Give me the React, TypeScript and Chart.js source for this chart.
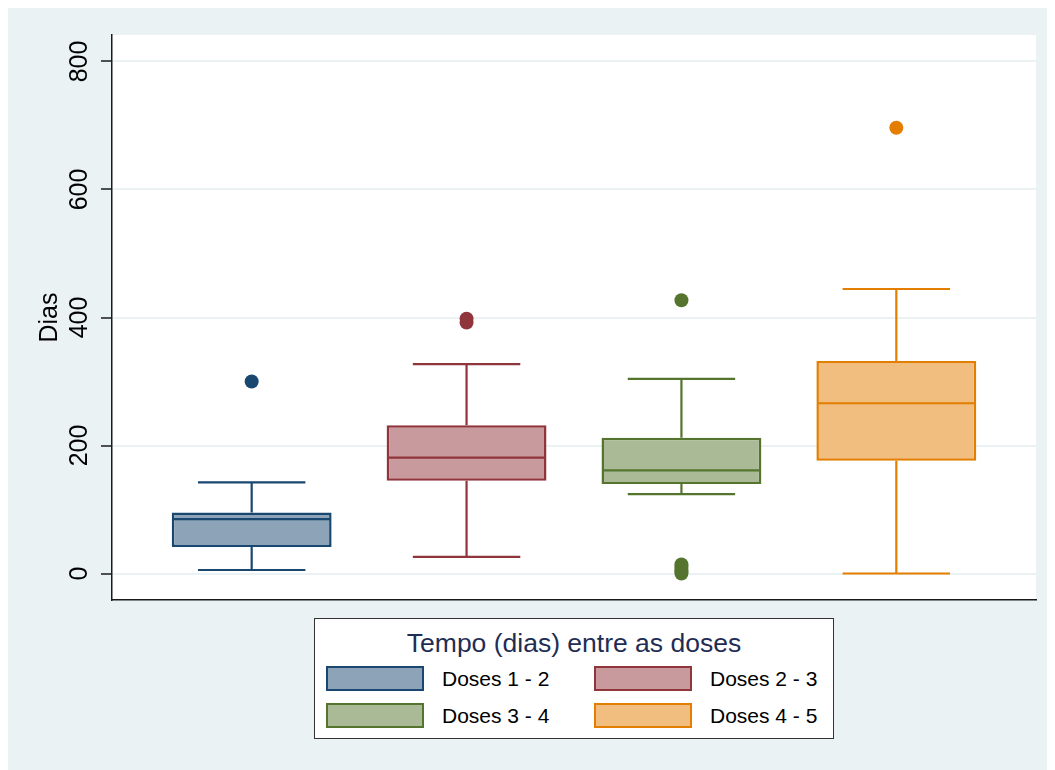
import React, { useEffect, useRef } from "react";
import { Chart, registerables } from "chart.js";

Chart.register(...registerables);

// ---- data ----
const categories = ["Doses 1 - 2", "Doses 2 - 3", "Doses 3 - 4", "Doses 4 - 5"];
const whiskerLow = [5.5, 26, 124, 0];
const q1 = [41.5, 145, 140, 176];
const median = [85, 181, 161, 266];
const q3 = [95.5, 231.5, 212, 332];
const whiskerHigh = [142.5, 327, 304, 444.5];
const outliers = [[300], [392, 398], [0, 3, 6, 10, 14, 427], [696.5]];
const yTicks = [0, 200, 400, 600, 800];
const yAxisTitle = "Dias";
const legendTitle = "Tempo (dias) entre as doses";

// ---- styles ----
const lineColors = ["#1A476F", "#90353B", "#55752F", "#E37E00"];
const fillColors = ["#8DA3B7", "#C89A9D", "#AABA97", "#F1BE7F"];
const FONT = '"Liberation Sans", Arial, Helvetica, sans-serif';
const BG = "#EAF2F3";
const W = 1047;
const H = 762;
const BOX_FRAC = 0.744;
const BOX_HALF = BOX_FRAC / 2 - 0.005;
const CAP_HALF = 0.25;

const bgPlugin = {
  id: "bgPlugin",
  beforeDraw(chart: any) {
    const { ctx, width, height, chartArea } = chart;
    ctx.save();
    ctx.fillStyle = BG;
    ctx.fillRect(0, 0, width, height);
    ctx.fillStyle = "#ffffff";
    ctx.fillRect(
      chartArea.left,
      chartArea.top,
      chartArea.right - chartArea.left,
      chartArea.bottom - chartArea.top
    );
    ctx.restore();
  },
};

function whiskerPoints(i: number) {
  const x = i + 1;
  const gap = { x, y: null as any };
  return [
    { x: x - CAP_HALF, y: whiskerLow[i] },
    { x: x + CAP_HALF, y: whiskerLow[i] },
    gap,
    { x, y: whiskerLow[i] },
    { x, y: q1[i] },
    gap,
    { x, y: q3[i] },
    { x, y: whiskerHigh[i] },
    gap,
    { x: x - CAP_HALF, y: whiskerHigh[i] },
    { x: x + CAP_HALF, y: whiskerHigh[i] },
    gap,
    { x: x - BOX_HALF, y: median[i] },
    { x: x + BOX_HALF, y: median[i] },
  ];
}

export default function App() {
  const canvasRef = useRef<HTMLCanvasElement | null>(null);

  useEffect(() => {
    document.body.style.overflow = "hidden";
    const canvas = canvasRef.current;
    if (!canvas) return;

    const datasets: any[] = [
      {
        type: "bar",
        label: "boxes",
        data: categories.map((_, i) => ({ x: i + 1, y: [q1[i], q3[i]] })),
        backgroundColor: fillColors,
        borderColor: lineColors,
        borderWidth: 2.5,
        borderSkipped: false,
        barPercentage: BOX_FRAC,
        categoryPercentage: 1,
        order: 3,
      },
      ...categories.map((c, i) => ({
        type: "line",
        label: c + " whiskers",
        data: whiskerPoints(i),
        borderColor: lineColors[i],
        borderWidth: 2.2,
        pointRadius: 0,
        fill: false,
        spanGaps: false,
        tension: 0,
        order: 2,
      })),
      ...categories.map((c, i) => ({
        type: "scatter",
        label: c + " outliers",
        data: outliers[i].map((v) => ({ x: i + 1, y: v })),
        backgroundColor: lineColors[i],
        borderWidth: 0,
        pointRadius: 7,
        order: 1,
      })),
    ];

    const chart = new Chart(canvas, {
      type: "bar",
      data: { datasets },
      plugins: [bgPlugin],
      options: {
        animation: false,
        responsive: false,
        devicePixelRatio: 1,
        layout: { padding: { top: 27, left: 0, right: 19, bottom: 170 } },
        plugins: {
          legend: { display: false },
          tooltip: { enabled: false },
        },
        scales: {
          x: {
            type: "linear",
            min: 0.35,
            max: 4.65,
            offset: false,
            afterBuildTicks(scale: any) {
              scale.ticks = categories.map((_, i) => ({ value: i + 1 }));
            },
            ticks: { display: false },
            grid: { display: false, offset: false },
            border: { display: true, color: "#1a1a1a", width: 1.5 },
            afterFit(scale: any) {
              scale.height = 0;
            },
          },
          y: {
            type: "linear",
            min: -41.4,
            max: 841.4,
            afterBuildTicks(scale: any) {
              scale.ticks = yTicks.map((v) => ({ value: v }));
            },
            afterFit(scale: any) {
              scale.width = 104;
            },
            ticks: {
              minRotation: 90,
              maxRotation: 90,
              crossAlign: "center",
              padding: 0,
              color: "#000",
              font: { family: FONT, size: 25 },
            },
            grid: {
              color: BG,
              lineWidth: 2,
              tickLength: 11,
              tickColor: "#1a1a1a",
              tickWidth: 1.5,
            },
            border: { display: true, color: "#1a1a1a", width: 1.5 },
            title: {
              display: true,
              text: yAxisTitle,
              color: "#000",
              font: { family: FONT, size: 25 },
              padding: { top: 27, bottom: 0 },
            },
          },
        },
      } as any,
    });

    return () => chart.destroy();
  }, []);

  return (
    <div style={{ position: "relative", width: W, height: H }}>
      <canvas ref={canvasRef} width={W} height={H} style={{ display: "block" }} />
      <div
        style={{
          position: "absolute",
          left: 306,
          top: 610,
          width: 520,
          height: 121,
          boxSizing: "border-box",
          border: "1px solid #333",
          background: "#fff",
          fontFamily: FONT,
        }}
      >
        <div
          style={{
            position: "absolute",
            left: 0,
            right: 0,
            top: 9,
            textAlign: "center",
            fontSize: 26.5,
            lineHeight: "30px",
            color: "#1F2D55",
            whiteSpace: "nowrap",
          }}
        >
          {legendTitle}
        </div>
        {categories.map((c, i) => {
          const col = i % 2;
          const row = Math.floor(i / 2);
          return (
            <React.Fragment key={c}>
              <div
                style={{
                  position: "absolute",
                  left: 11 + col * 268,
                  top: 47 + row * 37,
                  width: 98,
                  height: 25,
                  boxSizing: "border-box",
                  border: `2px solid ${lineColors[i]}`,
                  background: fillColors[i],
                }}
              />
              <div
                style={{
                  position: "absolute",
                  left: 127 + col * 268,
                  top: 47 + row * 37,
                  height: 25,
                  fontSize: 21,
                  lineHeight: "25px",
                  color: "#000",
                  whiteSpace: "nowrap",
                }}
              >
                {c}
              </div>
            </React.Fragment>
          );
        })}
      </div>
    </div>
  );
}
